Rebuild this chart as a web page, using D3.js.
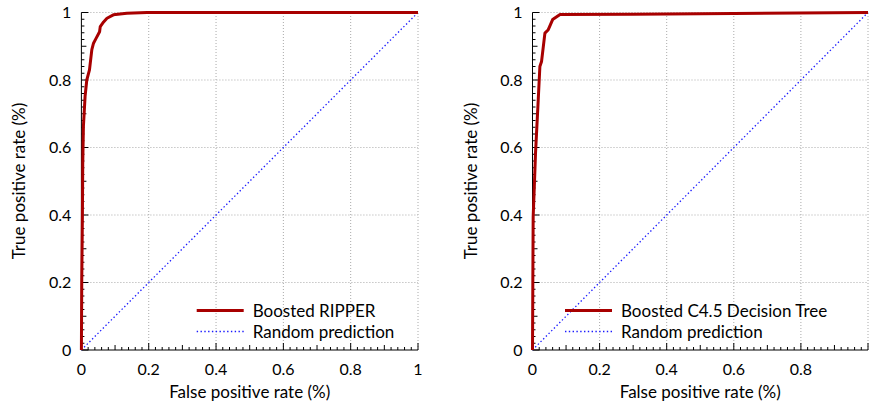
<!DOCTYPE html>
<html>
<head>
<meta charset="utf-8">
<script src="https://cdn.jsdelivr.net/npm/d3@7"></script>
<style>
  body { margin: 0; background: #fff; }
  svg text { font-family: Lato, "Open Sans", sans-serif; fill: #000; }
</style>
</head>
<body>
<div id="chart"></div>
<script>
var W = 869, H = 410;

// ROC points
var ripperFpr = [0, 0.001, 0.003, 0.004, 0.006, 0.011, 0.016, 0.024, 0.031, 0.036, 0.044, 0.054, 0.056, 0.066, 0.076, 0.095, 0.135, 0.195, 1];
var ripperTpr = [0, 0.2, 0.4, 0.55, 0.663, 0.752, 0.80, 0.83, 0.89, 0.909, 0.924, 0.943, 0.958, 0.972, 0.983, 0.993, 0.998, 1, 1];

var c45Fpr = [0, 0.001, 0.002, 0.006, 0.009, 0.012, 0.016, 0.022, 0.027, 0.037, 0.047, 0.06, 0.082, 0.3, 0.6, 1];
var c45Tpr = [0, 0.2, 0.395, 0.5, 0.583, 0.642, 0.72, 0.84, 0.855, 0.939, 0.949, 0.979, 0.994, 0.995, 0.997, 1];

var randomFpr = [0, 1];
var randomTpr = [0, 1];

var majorTicks = [0, 0.2, 0.4, 0.6, 0.8, 1];
var majorLabels = ["0", "0.2", "0.4", "0.6", "0.8", "1"];

var red = "#a80000", blue = "#1a1aff";

var svg = d3.select("#chart").append("svg")
    .attr("width", W)
    .attr("height", H);

function zip(a, b) { return a.map(function (v, i) { return [v, b[i]]; }); }

function drawPanel(cfg) {
    var x = d3.scaleLinear().domain([0, 1]).range([cfg.x0, cfg.x1]),
        y = d3.scaleLinear().domain([0, 1]).range([350, 12.5]);

    var g = svg.append("g");

    // dotted grid
    g.selectAll(".vgrid").data(majorTicks.slice(1)).enter().append("line")
        .attr("x1", function (d) { return x(d); }).attr("x2", function (d) { return x(d); })
        .attr("y1", y(0)).attr("y2", y(1))
        .attr("stroke", "#aaa").attr("stroke-width", 1).attr("stroke-dasharray", "1,2");
    g.selectAll(".hgrid").data(majorTicks.slice(1)).enter().append("line")
        .attr("x1", x(0)).attr("x2", x(1))
        .attr("y1", function (d) { return y(d); }).attr("y2", function (d) { return y(d); })
        .attr("stroke", "#aaa").attr("stroke-width", 1).attr("stroke-dasharray", "1,2");

    // inward ticks
    var minor = d3.range(0, 1.0001, 0.02);
    function tlen(d) {
        var k = Math.round(d * 50);
        if (k % 10 == 0) return 7;
        if (k % 5 == 0) return 5;
        return 3;
    }
    g.selectAll(".xt").data(minor).enter().append("line")
        .attr("x1", function (d) { return x(d); }).attr("x2", function (d) { return x(d); })
        .attr("y1", y(0)).attr("y2", function (d) { return y(0) - tlen(d); })
        .attr("stroke", "#000").attr("stroke-width", 1);
    g.selectAll(".yt").data(minor).enter().append("line")
        .attr("y1", function (d) { return y(d); }).attr("y2", function (d) { return y(d); })
        .attr("x1", x(0)).attr("x2", function (d) { return x(0) + tlen(d); })
        .attr("stroke", "#000").attr("stroke-width", 1);

    // axis lines
    g.append("line").attr("x1", x(0)).attr("x2", x(1)).attr("y1", y(0)).attr("y2", y(0))
        .attr("stroke", "#000").attr("stroke-width", 1);
    g.append("line").attr("x1", x(0)).attr("x2", x(0)).attr("y1", y(0)).attr("y2", y(1))
        .attr("stroke", "#000").attr("stroke-width", 1);

    // tick labels
    g.selectAll(".xl").data(cfg.xLabelTicks).enter().append("text")
        .attr("x", function (d) { return x(d); })
        .attr("y", 375)
        .attr("text-anchor", "middle")
        .style("font-size", "16px")
        .text(function (d) { return majorLabels[majorTicks.indexOf(d)]; });
    g.selectAll(".yl").data(majorTicks).enter().append("text")
        .attr("x", x(0) - 10)
        .attr("y", function (d) { return y(d) + 5.5; })
        .attr("text-anchor", "end")
        .style("font-size", "16px")
        .text(function (d, i) { return majorLabels[i]; });

    // axis titles
    g.append("text")
        .attr("x", (cfg.x0 + cfg.x1) / 2)
        .attr("y", 398)
        .attr("text-anchor", "middle")
        .style("font-size", "17px")
        .text("False positive rate (%)");
    g.append("text")
        .attr("transform", "translate(" + (cfg.x0 - 56) + "," + 181 + ") rotate(-90)")
        .attr("text-anchor", "middle")
        .style("font-size", "17px")
        .text("True positive rate (%)");

    var line = d3.line()
        .x(function (d) { return x(d[0]); })
        .y(function (d) { return y(d[1]); });

    g.append("path").datum(zip(randomFpr, randomTpr))
        .attr("d", line).attr("fill", "none")
        .attr("stroke", blue).attr("stroke-width", 1.3).attr("stroke-dasharray", "1.4,2.4");

    g.append("path").datum(zip(cfg.fpr, cfg.tpr))
        .attr("d", line).attr("fill", "none")
        .attr("stroke", red).attr("stroke-width", 3)
        .attr("stroke-linejoin", "round");

    // legend
    var lx = cfg.x0 + cfg.legendX;
    g.append("line").attr("x1", lx).attr("x2", lx + 47).attr("y1", 310.5).attr("y2", 310.5)
        .attr("stroke", red).attr("stroke-width", 3);
    g.append("text").attr("x", lx + 56).attr("y", 316.5).style("font-size", "17px").text(cfg.name);
    g.append("line").attr("x1", lx).attr("x2", lx + 47).attr("y1", 331.5).attr("y2", 331.5)
        .attr("stroke", blue).attr("stroke-width", 1.3).attr("stroke-dasharray", "1.4,2.4");
    g.append("text").attr("x", lx + 56).attr("y", 337.5).style("font-size", "17px").text("Random prediction");
}

drawPanel({ x0: 81.4, x1: 418, fpr: ripperFpr, tpr: ripperTpr, name: "Boosted RIPPER",
            legendX: 115.3, xLabelTicks: majorTicks });
drawPanel({ x0: 532.5, x1: 868, fpr: c45Fpr, tpr: c45Tpr, name: "Boosted C4.5 Decision Tree",
            legendX: 32.5, xLabelTicks: majorTicks.slice(0, 5) });
</script>
</body>
</html>
